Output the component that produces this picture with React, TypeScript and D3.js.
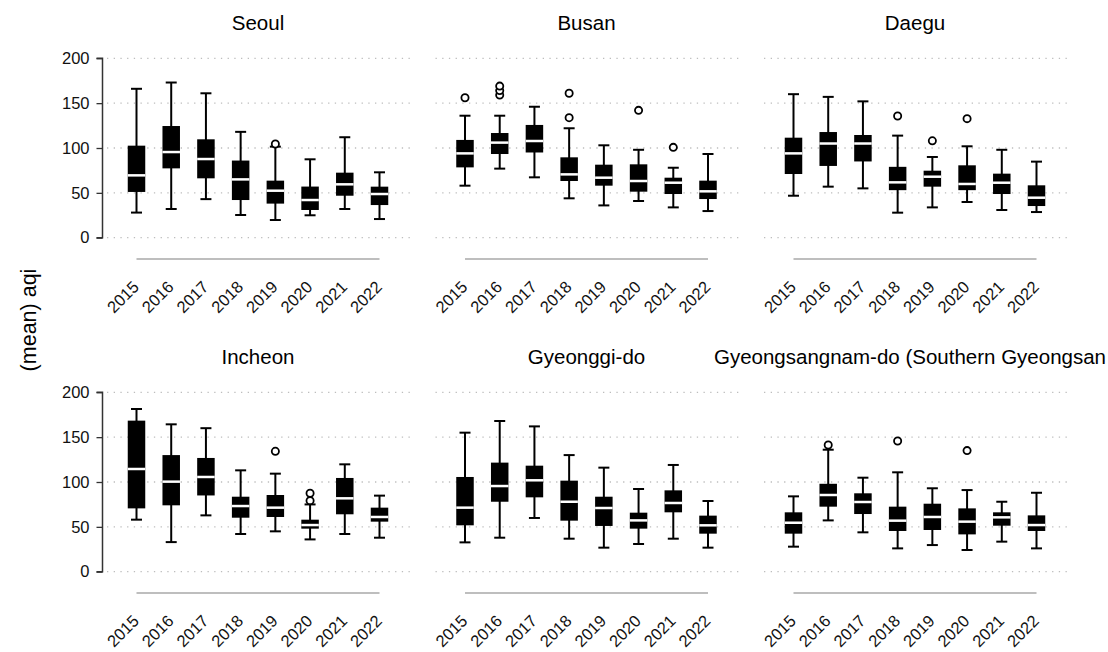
import React, { useEffect, useRef } from 'react'
import * as d3 from 'd3'

const years = ['2015', '2016', '2017', '2018', '2019', '2020', '2021', '2022']

const cities = ['Seoul', 'Busan', 'Daegu', 'Incheon', 'Gyeonggi-do', 'Gyeongsangnam-do (Southern Gyeongsan']

const yTicks = [0, 50, 100, 150, 200]

// each row: [lower whisker, q1, median, q3, upper whisker]
const seoul = [
    [28, 51, 69.5, 102.6, 166],
    [32, 77.3, 95.5, 124.5, 173],
    [43, 66.2, 87.7, 109.7, 161],
    [25.3, 42, 65, 86, 118],
    [19.7, 38, 52.4, 63.6, 101.5],
    [25, 30.9, 42, 57, 87.4],
    [32, 46.8, 59.5, 72.5, 112],
    [20.8, 36.4, 48.7, 56.9, 72.9],
]
const seoulOut = [[], [], [], [], [104.5], [], [], []]

const busan = [
    [58, 78.4, 94, 109, 136],
    [77, 93.3, 106, 116.7, 136],
    [67.3, 95, 107.8, 125.7, 146],
    [43.9, 63.2, 70.6, 89.6, 122],
    [36, 58, 66.9, 81.4, 103],
    [40.9, 51.3, 63.2, 81.8, 98],
    [33.8, 48.7, 61.3, 66.9, 78],
    [29.7, 43.1, 51.7, 63.6, 93.3],
]
const busanOut = [[156], [159, 164, 169], [], [133.8, 161], [], [142], [100.7], []]

const daegu = [
    [46.8, 71, 94, 111.5, 160],
    [56.9, 80, 105, 117.8, 157],
    [55, 85, 105, 114.5, 152],
    [27.9, 53, 61.7, 79, 113.8],
    [33.8, 56.9, 68, 74.7, 90],
    [39.8, 53, 59.9, 80.7, 101.9],
    [30.9, 48.7, 61.3, 71.4, 98],
    [28.6, 35.3, 44.6, 58.4, 84.8],
]
const daeguOut = [[], [], [], [135.7], [108], [132.7], [], []]

const incheon = [
    [58, 70.6, 114.5, 168.4, 181.4],
    [33, 74, 100.4, 130, 164.3],
    [62.8, 85, 105.6, 126.8, 160],
    [42, 60.2, 73.2, 83.6, 113],
    [45, 61, 71.4, 85.5, 109.3],
    [36, 48, 52, 58, 75],
    [42, 64, 81.8, 104.5, 119.7],
    [37.9, 55.8, 61, 71.4, 84.8],
]
const incheonOut = [[], [], [], [], [134.2], [79.2, 87.4], [], []]

const gyeonggi = [
    [32.7, 51.7, 71.4, 105.6, 155],
    [37.9, 78, 95.5, 121.6, 168],
    [59.9, 82.9, 101.9, 118.2, 162],
    [36.8, 56.9, 78, 101.5, 130],
    [26.8, 51, 71, 83.6, 116],
    [30.9, 48, 57.2, 65.8, 92.2],
    [36.8, 66.2, 76.6, 90.7, 119],
    [26.8, 42.4, 51.7, 62.5, 78.8],
]
const gyeonggiOut = [[], [], [], [], [], [], [], []]

const gyeongnam = [
    [27.9, 42.4, 54.6, 66.2, 84],
    [57.2, 72.5, 85.5, 98, 136],
    [43.9, 64.3, 77.7, 87.4, 104.8],
    [26, 45.4, 56.9, 72.5, 110.8],
    [29.7, 46.5, 61, 75.8, 93],
    [24.2, 41.6, 55.8, 70.6, 91],
    [33.5, 51.3, 60.6, 66.2, 78],
    [26, 45.4, 52, 62.8, 88],
]
const gyeongnamOut = [[], [141.3], [], [145.7], [], [135], [], []]

const allStats = [seoul, busan, daegu, incheon, gyeonggi, gyeongnam]
const allOut = [seoulOut, busanOut, daeguOut, incheonOut, gyeonggiOut, gyeongnamOut]

export default function App() {
    const svgRef = useRef<SVGSVGElement>(null)

    useEffect(() => {
        const width = 1108
        const height = 652
        const font = '"Liberation Sans", Arial, sans-serif'

        const svg = d3.select(svgRef.current)
            .attr('width', width)
            .attr('height', height)
            .style('font-family', font)
        svg.selectAll('*').remove()

        const colX = [103, 431.5, 760]
        const rowY = [0, 334]
        const panelW = 310

        const yScale = d3.scaleLinear().domain([0, 200]).range([237.7, 58.3])
        const xScale = d3.scalePoint<string>().domain(years).range([33.5, 276.5])

        // y axis title
        svg.append('text')
            .attr('transform', 'translate(36, 320) rotate(-90)')
            .attr('text-anchor', 'middle')
            .style('font-size', '21.5px')
            .text('(mean) aqi')

        cities.forEach((name, i) => {
            const col = i % 3
            const row = Math.floor(i / 3)
            const g = svg.append('g')
                .attr('transform', `translate(${colX[col]}, ${rowY[row]})`)

            // title
            const title = g.append('text')
                .attr('y', 30)
                .style('font-size', '20.5px')
                .text(name)
            if (i === 5) {
                // too long for the panel, cut at the right edge like the original
                title.attr('x', width - 2 - colX[col]).attr('text-anchor', 'end')
            } else {
                title.attr('x', panelW / 2).attr('text-anchor', 'middle')
            }

            // dotted grid
            g.selectAll('line.grid')
                .data(yTicks)
                .enter().append('line')
                .attr('x1', 4)
                .attr('x2', panelW)
                .attr('y1', d => yScale(d))
                .attr('y2', d => yScale(d))
                .attr('stroke', '#bdbdbd')
                .attr('stroke-width', 1.3)
                .attr('stroke-dasharray', '1.3,5.4')

            // y axis only on left column
            if (col === 0) {
                const ax = g.append('g')
                    .call(d3.axisLeft(yScale).tickValues(yTicks).tickSize(6).tickPadding(7))
                ax.select('.domain').attr('stroke', '#333').attr('stroke-width', 1.5)
                    .attr('d', `M-6,${yScale(200)}H0V${yScale(0)}H-6`)
                ax.selectAll('.tick line').attr('stroke', '#333').attr('stroke-width', 1.3)
                ax.selectAll('.tick text')
                    .attr('fill', '#111')
                    .style('font-size', '16.5px')
                    .style('font-family', font)
                ax.attr('transform', 'translate(-0.5,0)')
            }

            // x axis line (spans the categories)
            g.append('line')
                .attr('x1', xScale(years[0])!)
                .attr('x2', xScale(years[years.length - 1])!)
                .attr('y1', 259)
                .attr('y2', 259)
                .attr('stroke', '#a8a8a8')
                .attr('stroke-width', 1.6)

            g.selectAll('text.year')
                .data(years)
                .enter().append('text')
                .attr('transform', d => `translate(${xScale(d)! + 3.5}, 288) rotate(-45)`)
                .attr('text-anchor', 'end')
                .style('font-size', '16.5px')
                .attr('fill', '#111')
                .text(d => d)

            const stats = allStats[i]
            const outs = allOut[i]
            const boxW = 17.5
            const capW = 11

            years.forEach((yr, j) => {
                const [lo, q1, med, q3, hi] = stats[j]
                const cx = xScale(yr)!
                const b = g.append('g')

                b.append('line')
                    .attr('x1', cx).attr('x2', cx)
                    .attr('y1', yScale(hi)).attr('y2', yScale(lo))
                    .attr('stroke', '#000').attr('stroke-width', 2)
                ;[lo, hi].forEach(v => {
                    b.append('line')
                        .attr('x1', cx - capW / 2).attr('x2', cx + capW / 2)
                        .attr('y1', yScale(v)).attr('y2', yScale(v))
                        .attr('stroke', '#000').attr('stroke-width', 2)
                })
                b.append('rect')
                    .attr('x', cx - boxW / 2)
                    .attr('y', yScale(q3))
                    .attr('width', boxW)
                    .attr('height', yScale(q1) - yScale(q3))
                    .attr('fill', '#000')
                b.append('line')
                    .attr('x1', cx - boxW / 2).attr('x2', cx + boxW / 2)
                    .attr('y1', yScale(med)).attr('y2', yScale(med))
                    .attr('stroke', '#fff').attr('stroke-width', 2.5)

                b.selectAll('circle')
                    .data(outs[j])
                    .enter().append('circle')
                    .attr('cx', cx)
                    .attr('cy', d => yScale(d))
                    .attr('r', 3.6)
                    .attr('fill', '#fff')
                    .attr('stroke', '#000')
                    .attr('stroke-width', 1.8)
            })
        })
    }, [])

    return (
        <svg ref={svgRef} style={{ position: 'absolute', left: 0, top: 0, background: '#fff' }}></svg>
    )
}
